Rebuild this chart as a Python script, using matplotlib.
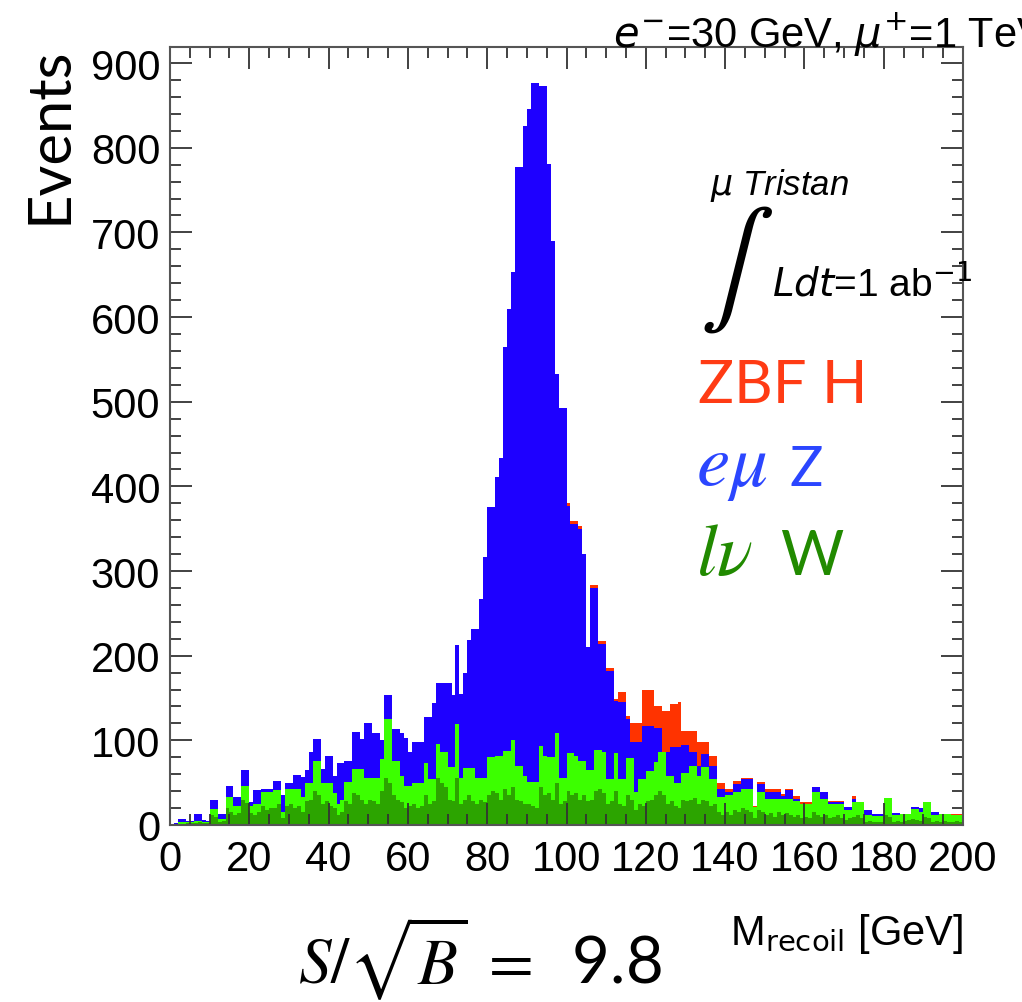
import numpy as np
import matplotlib
matplotlib.use("Agg")
import matplotlib.pyplot as plt
from matplotlib.ticker import MultipleLocator

# ---------------- data (1 GeV bins, 0-200 GeV) ----------------
x_min, x_max, n_bins = 0, 200, 200

# cumulative stack tops
# top of whole stack (ZBF H + eμ Z + lν W)
stack_total = [
    1, 2, 7, 7, 5, 5, 13, 13, 6, 5,
    30, 30, 13, 13, 46, 46, 33, 33, 65, 65,
    27, 41, 41, 43, 43, 43, 52, 52, 35, 50,
    50, 59, 59, 57, 65, 86, 102, 102, 66, 81,
    81, 58, 73, 73, 76, 76, 110, 110, 102, 120,
    120, 109, 109, 100, 154, 154, 113, 113, 109, 103,
    86, 98, 98, 98, 127, 127, 144, 168, 168, 168,
    168, 153, 213, 155, 180, 218, 231, 231, 267, 316,
    376, 376, 411, 434, 565, 609, 653, 777, 777, 826,
    846, 876, 876, 873, 873, 781, 690, 533, 493, 493,
    380, 359, 359, 353, 320, 210, 283, 283, 217, 217,
    185, 185, 149, 157, 157, 129, 121, 121, 121, 159,
    159, 159, 141, 141, 135, 135, 143, 143, 145, 111,
    111, 111, 111, 98, 98, 98, 82, 82, 50, 50,
    43, 43, 52, 52, 56, 56, 56, 23, 51, 51,
    43, 43, 43, 43, 37, 43, 43, 34, 34, 27,
    27, 27, 45, 45, 39, 39, 28, 28, 28, 28,
    21, 21, 34, 27, 27, 18, 18, 13, 13, 13,
    32, 32, 14, 14, 13, 13, 13, 21, 21, 20,
    27, 27, 15, 15, 13, 13, 13, 13, 13, 13,
]

# top of eμ Z + lν W
stack_z = [
    1, 2, 7, 7, 5, 5, 13, 13, 6, 5,
    30, 30, 13, 13, 46, 46, 33, 33, 65, 65,
    27, 41, 41, 43, 43, 43, 52, 52, 35, 50,
    50, 59, 59, 57, 65, 86, 102, 102, 66, 81,
    81, 58, 73, 73, 76, 76, 110, 110, 102, 120,
    120, 109, 109, 100, 154, 154, 113, 113, 109, 103,
    86, 98, 98, 98, 127, 127, 144, 168, 168, 168,
    168, 153, 213, 155, 180, 218, 231, 231, 267, 316,
    376, 376, 411, 434, 565, 609, 653, 777, 777, 826,
    846, 876, 876, 873, 873, 781, 690, 533, 493, 493,
    377, 356, 356, 350, 320, 210, 280, 280, 214, 214,
    182, 182, 147, 145, 145, 125, 98, 98, 98, 117,
    117, 117, 115, 115, 86, 86, 92, 92, 92, 94,
    94, 86, 86, 70, 84, 84, 70, 70, 43, 43,
    39, 39, 48, 48, 54, 54, 54, 21, 48, 48,
    39, 39, 39, 39, 34, 41, 41, 31, 31, 25,
    25, 25, 45, 45, 39, 39, 27, 27, 27, 27,
    21, 21, 31, 27, 27, 18, 18, 13, 13, 13,
    32, 32, 14, 14, 13, 13, 13, 21, 21, 20,
    27, 27, 15, 15, 13, 13, 13, 12, 12, 12,
]

# top of lν W (both shades)
stack_w = [
    1, 1, 3, 3, 3, 3, 5, 5, 3, 3,
    19, 19, 7, 7, 33, 33, 23, 23, 46, 46,
    23, 25, 25, 39, 39, 39, 41, 41, 15, 43,
    43, 43, 43, 33, 50, 50, 76, 76, 50, 50,
    50, 38, 25, 30, 51, 51, 66, 66, 66, 56,
    56, 56, 56, 78, 125, 125, 76, 76, 58, 46,
    46, 50, 50, 50, 73, 54, 54, 96, 86, 86,
    68, 68, 119, 56, 67, 67, 67, 56, 56, 56,
    80, 80, 82, 82, 88, 88, 100, 70, 70, 58,
    51, 51, 51, 93, 82, 80, 80, 109, 56, 56,
    85, 85, 81, 76, 76, 65, 65, 89, 89, 86,
    54, 54, 85, 54, 54, 79, 79, 39, 54, 54,
    64, 64, 74, 86, 86, 58, 58, 50, 50, 62,
    62, 70, 70, 58, 68, 68, 54, 54, 33, 33,
    35, 35, 39, 39, 43, 43, 43, 21, 39, 39,
    31, 31, 31, 31, 31, 31, 31, 28, 28, 25,
    25, 25, 39, 39, 31, 31, 25, 25, 25, 25,
    18, 18, 27, 27, 27, 12, 12, 11, 11, 11,
    32, 32, 12, 12, 13, 13, 13, 19, 19, 15,
    27, 27, 12, 12, 13, 13, 13, 12, 12, 12,
]

# darker lower lν W component
stack_w_dark = [
    0, 0, 1, 1, 2, 2, 2, 3, 2, 2,
    12, 10, 4, 5, 20, 15, 12, 14, 30, 26,
    14, 12, 15, 22, 18, 20, 20, 25, 8, 22,
    25, 20, 22, 15, 28, 30, 40, 35, 25, 28,
    22, 20, 12, 15, 28, 25, 38, 35, 30, 25,
    30, 28, 25, 40, 55, 50, 35, 30, 27, 20,
    22, 25, 20, 22, 35, 25, 28, 55, 50, 45,
    30, 28, 55, 25, 30, 35, 28, 25, 30, 27,
    35, 40, 38, 30, 42, 35, 45, 30, 28, 25,
    25, 22, 20, 45, 35, 38, 30, 50, 25, 28,
    40, 35, 38, 30, 35, 28, 30, 40, 42, 38,
    25, 28, 40, 25, 22, 35, 30, 18, 25, 22,
    28, 30, 35, 40, 35, 25, 28, 22, 20, 30,
    28, 30, 32, 25, 30, 28, 22, 25, 15, 12,
    15, 12, 18, 15, 20, 18, 15, 8, 18, 15,
    12, 14, 10, 15, 12, 14, 12, 10, 12, 8,
    10, 8, 15, 12, 10, 12, 8, 10, 12, 8,
    6, 8, 10, 12, 8, 4, 5, 4, 3, 4,
    12, 10, 4, 5, 4, 5, 6, 7, 6, 5,
    10, 8, 4, 5, 4, 5, 4, 4, 5, 4,
]

legend_labels = ["ZBF H", "Z", "W"]
legend_math = [None, r"$e\mu$", r"$l\nu$"]
x_ticks = [0, 20, 40, 60, 80, 100, 120, 140, 160, 180, 200]
y_ticks = [0, 100, 200, 300, 400, 500, 600, 700, 800, 900]

# ---------------- styling ----------------
c_red = "#ff3300"
c_blue = "#1e00ff"
c_green = "#3cff00"
c_dgreen = "#2ca400"

W, H = 1022, 1003
fig = plt.figure(figsize=(W / 100, H / 100), dpi=100)
L, R, T, B = 170, 963, 48, 826
ax = fig.add_axes([L / W, 1 - B / H, (R - L) / W, (B - T) / H])

edges = np.linspace(x_min, x_max, n_bins + 1)
for vals, col in [(stack_total, c_red), (stack_z, c_blue),
                  (stack_w, c_green), (stack_w_dark, c_dgreen)]:
    ax.stairs(vals, edges, fill=True, color=col, linewidth=0)

ax.set_xlim(0, 200)
ax.set_ylim(0, 919)
ax.set_xticks(x_ticks)
ax.set_yticks(y_ticks)
ax.xaxis.set_minor_locator(MultipleLocator(5))
ax.yaxis.set_minor_locator(MultipleLocator(20))
ax.tick_params(which="both", direction="in", top=True, right=True,
               color="#333333", width=1.3)
ax.tick_params(which="major", length=16)
ax.tick_params(which="minor", length=8)
ax.tick_params(axis="x", which="major", pad=10)
ax.tick_params(axis="y", which="major", pad=7)
for lab in ax.get_xticklabels() + ax.get_yticklabels():
    lab.set_fontfamily("Liberation Sans")
    lab.set_fontsize(30)
for s in ax.spines.values():
    s.set_color("#555555")
    s.set_linewidth(1.5)


def ft(x, y, s, **kw):
    return fig.text(x / W, 1 - y / H, s, **kw)


ft(50, 47, "Events", rotation=90, ha="center", va="top", fontsize=43,
   family="Lato")
ft(963, 945, r"M$_{\mathrm{recoil}}$ [GeV]", ha="right", va="baseline",
   fontsize=30, family="Liberation Sans", math_fontfamily="dejavusans")
ft(613, 47, r"$e^{-}$=30 GeV, $\mu^{+}$=1 TeV", ha="left", va="baseline",
   fontsize=30, family="Liberation Sans", math_fontfamily="dejavusans")
ft(710, 195, r"$\mu$ Tristan", ha="left", va="baseline", fontsize=25,
   family="Liberation Sans", style="italic", math_fontfamily="dejavusans")
ft(736, 270, r"$\int$", ha="center", va="center", fontsize=80,
   math_fontfamily="stix")
ft(772, 295, r"$Ldt$=1 ab$^{-1}$", ha="left", va="baseline", fontsize=28,
   family="Liberation Sans", math_fontfamily="dejavusans")
ft(698, 403, legend_labels[0], ha="left", va="baseline", fontsize=43,
   family="Lato", color="#ff3b14")
ft(696, 486, legend_math[1], ha="left", va="baseline", fontsize=54,
   color="#2b46ff", math_fontfamily="stix")
ft(789, 486, legend_labels[1], ha="left", va="baseline", fontsize=40,
   family="Lato", color="#2b46ff")
ft(696, 575, legend_math[2], ha="left", va="baseline", fontsize=54,
   color="#218a00", math_fontfamily="stix")
ft(780, 575, legend_labels[2], ha="left", va="baseline", fontsize=44,
   family="Lato", color="#218a00")
ft(298, 984, r"$S/\sqrt{B}\;=\;$ 9.8", ha="left", va="baseline", fontsize=47,
   family="Lato", math_fontfamily="stix")

fig.savefig("out.png", dpi=100)
